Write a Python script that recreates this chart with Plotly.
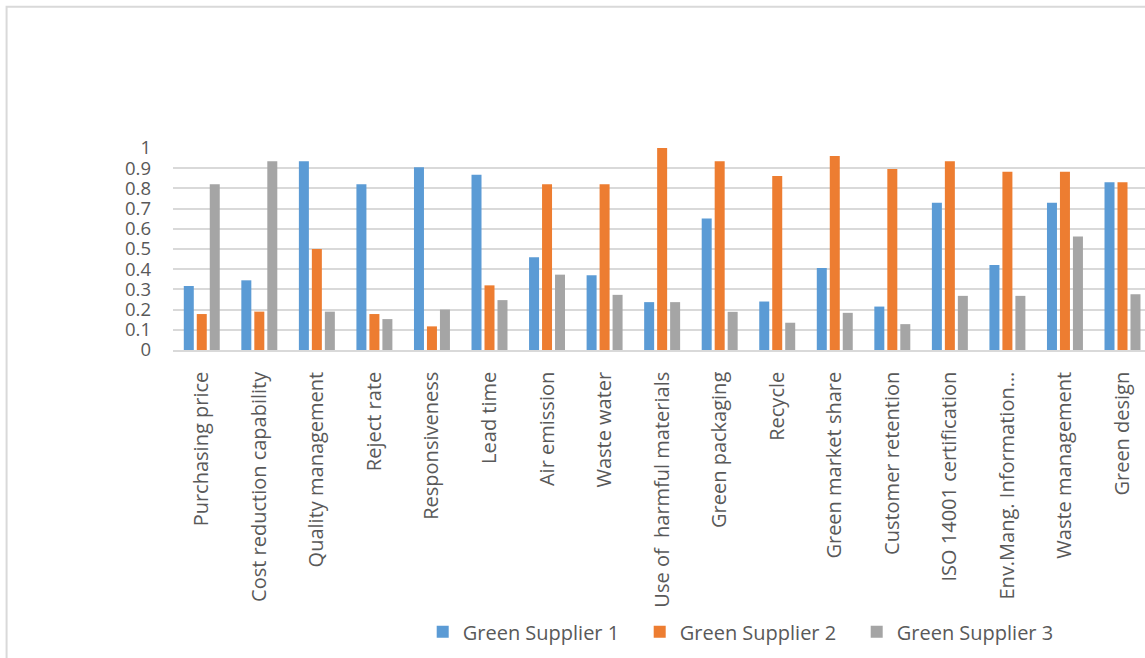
import plotly.graph_objects as go

categories = ["Purchasing price", "Cost reduction capability", "Quality management",
              "Reject rate", "Responsiveness", "Lead time", "Air emission", "Waste water",
              "Use of  harmful materials", "Green packaging", "Recycle", "Green market share",
              "Customer retention", "ISO 14001 certification", "Env.Mang. Information…",
              "Waste management", "Green design"]

supplier1 = [0.317, 0.345, 0.934, 0.82, 0.905, 0.868, 0.459, 0.37, 0.237, 0.651,
             0.24, 0.406, 0.215, 0.729, 0.421, 0.729, 0.83]
supplier2 = [0.178, 0.19, 0.5, 0.178, 0.117, 0.32, 0.82, 0.82, 1.0, 0.934,
             0.862, 0.96, 0.896, 0.934, 0.882, 0.882, 0.83]
supplier3 = [0.82, 0.934, 0.19, 0.153, 0.2, 0.247, 0.373, 0.273, 0.237, 0.189,
             0.135, 0.184, 0.128, 0.268, 0.268, 0.5625, 0.276]

series_names = ["Green Supplier 1", "Green Supplier 2", "Green Supplier 3"]
colors = ["#5B9BD5", "#ED7D31", "#A5A5A5"]

W, H = 1145, 658
L, R = 172.5, 1145
TOP, BOT = 147.7, 350.3
FONT = "Open Sans"
TXT = "#595959"

fig = go.Figure()
for name, vals, col in zip(series_names, [supplier1, supplier2, supplier3], colors):
    fig.add_trace(go.Bar(x=list(range(len(categories))), y=vals, name=name,
                         marker=dict(color=col, line=dict(width=0))))

step = 57.575
xmax = 16.5 - (L + 17 * step - R) / step

def px_x(p):
    return (p - L) / (R - L)

def px_y(p):
    return (BOT - p) / (BOT - TOP)

fig.update_layout(
    width=W, height=H,
    margin=dict(l=L, r=W - R, t=TOP, b=H - BOT, pad=0),
    paper_bgcolor="white", plot_bgcolor="white",
    barmode="group", bargap=0.323, bargroupgap=0.23,
    font=dict(family=FONT, color=TXT),
    showlegend=True,
    legend=dict(orientation="h", x=px_x(748), xanchor="center",
                y=px_y(633), yanchor="middle",
                font=dict(family=FONT, size=20, color=TXT),
                entrywidth=172, entrywidthmode="pixels",
                bgcolor="rgba(0,0,0,0)"),
    xaxis=dict(tickmode="array", tickvals=list(range(len(categories))), ticktext=categories,
               range=[-0.5, xmax], tickangle=-90, showgrid=False, zeroline=False,
               showline=True, linecolor="#D9D9D9", linewidth=1.5, ticks="",
               tickfont=dict(family=FONT, size=20, color=TXT), ticklabelstandoff=12),
    yaxis=dict(range=[0, 1], dtick=0.1, tick0=0, showgrid=True, gridcolor="#D9D9D9",
               gridwidth=1.5, zeroline=False, showline=False, ticks="",
               tickfont=dict(family=FONT, size=18.5, color=TXT), ticklabelstandoff=21),
    shapes=[dict(type="rect", xref="paper", yref="paper",
                 x0=px_x(6), x1=px_x(1160), y0=px_y(680), y1=px_y(6),
                 line=dict(color="#D9D9D9", width=2), fillcolor="rgba(0,0,0,0)", layer="below")],
)

fig.write_html("out.html")
